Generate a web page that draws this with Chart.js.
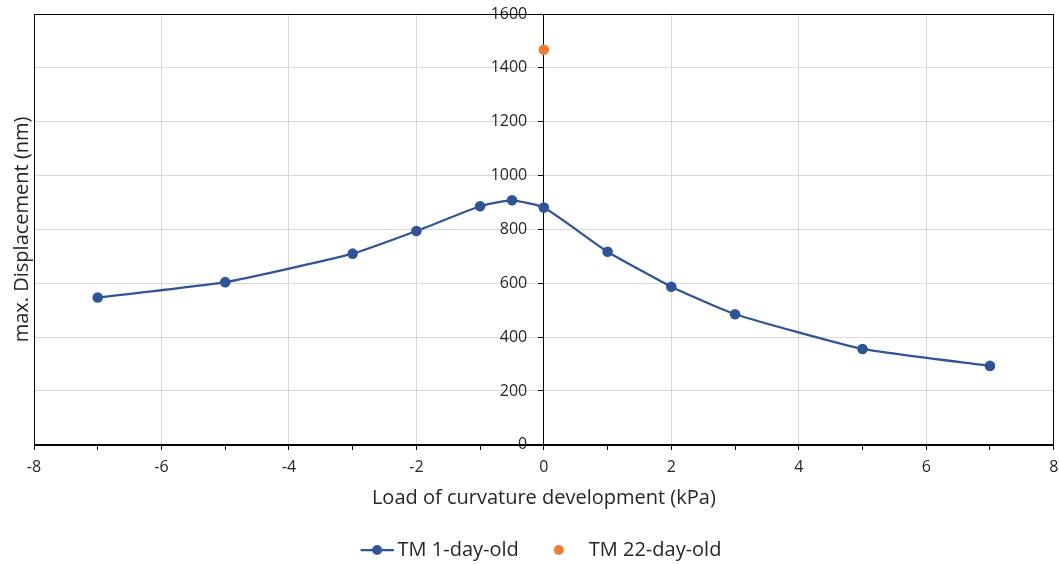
<!DOCTYPE html>
<html>
<head>
<meta charset="utf-8">
<script src="https://cdn.jsdelivr.net/npm/chart.js@4/dist/chart.umd.min.js"></script>
<style>
  html, body { margin: 0; padding: 0; background: #fff; }
  #wrap { width: 1059px; height: 565px; position: relative; }
</style>
</head>
<body>
<div id="wrap"><canvas id="c" width="1059" height="565"></canvas></div>
<script>
// Load of curvature development (kPa)
const loads1 = [-7, -5, -3, -2, -1, -0.5, 0, 1, 2, 3, 5, 7];
// max. displacement (nm), TM 1-day-old
const disp1 = [547, 604, 710, 794, 886, 908, 881, 717, 587, 485, 356, 293];
// TM 22-day-old
const loads22 = [0];
const disp22 = [1467];

const seriesNames = ['TM 1-day-old', 'TM 22-day-old'];
const xTitle = 'Load of curvature development (kPa)';
const yTitle = 'max. Displacement (nm)';

const BLUE = '#2F5597';
const ORANGE = '#ED7D31';
const TEXT = '#262626';
const GRID = '#d9d9d9';
const FONT = "'Open Sans', 'Liberation Sans', sans-serif";
const SYMBOL_W = 50;   // legend symbol slot width

// legend symbols: a short line with a marker, or a lone marker
function legendSymbol(withLine, color) {
  const cv = document.createElement('canvas');
  cv.width = SYMBOL_W + 12; cv.height = 12;
  const g = cv.getContext('2d');
  g.fillStyle = color;
  if (withLine) {
    const x0 = cv.width - 33, x1 = cv.width;
    g.strokeStyle = color; g.lineWidth = 2.25;
    g.beginPath(); g.moveTo(x0, 6); g.lineTo(x1, 6); g.stroke();
    g.beginPath(); g.arc((x0 + x1) / 2, 6, 5, 0, Math.PI * 2); g.fill();
  } else {
    g.beginPath(); g.arc(SYMBOL_W - 14, 6, 5, 0, Math.PI * 2); g.fill();
  }
  return cv;
}

const toPts = (xs, ys) => xs.map((x, i) => ({ x: x, y: ys[i] }));

// black frame round the plot area
const frame = {
  id: 'frame',
  beforeDatasetsDraw(chart) {
    const { ctx, chartArea: a } = chart;
    ctx.save();
    ctx.strokeStyle = '#000';
    ctx.lineWidth = 1;
    ctx.strokeRect(Math.round(a.left) + 0.5, Math.round(a.top) + 0.5,
      Math.round(a.right - a.left) - 1, Math.round(a.bottom - a.top));
    ctx.restore();
  }
};

new Chart(document.getElementById('c'), {
  type: 'scatter',
  data: {
    datasets: [
      {
        label: seriesNames[0],
        data: toPts(loads1, disp1),
        showLine: true,
        borderColor: BLUE,
        backgroundColor: BLUE,
        borderWidth: 2.25,
        pointRadius: 5.3,
        pointHoverRadius: 5.3,
        pointBorderWidth: 0,
        tension: 0.15,
        pointStyle: 'circle'
      },
      {
        label: seriesNames[1],
        data: toPts(loads22, disp22),
        showLine: false,
        borderColor: ORANGE,
        backgroundColor: ORANGE,
        pointRadius: 5.3,
        pointHoverRadius: 5.3,
        pointBorderWidth: 0,
        pointStyle: 'circle'
      }
    ]
  },
  options: {
    responsive: false,
    animation: false,
    layout: { padding: { left: 0, right: 0, top: 14, bottom: -5 } },
    plugins: {
      tooltip: { enabled: false },
      legend: {
        position: 'bottom',
        labels: {
          color: TEXT,
          font: { family: FONT, size: 20 },
          usePointStyle: true,
          pointStyleWidth: SYMBOL_W,
          padding: 10,
          generateLabels(chart) {
            return chart.data.datasets.map((ds, i) => ({
              text: ds.label,
              pointStyle: legendSymbol(i === 0, ds.borderColor),
              fillStyle: ds.backgroundColor,
              strokeStyle: ds.borderColor,
              lineWidth: 0,
              fontColor: TEXT,
              hidden: false,
              datasetIndex: i
            }));
          }
        }
      }
    },
    scales: {
      x: {
        type: 'linear',
        position: 'bottom',
        min: -8, max: 8,
        ticks: {
          stepSize: 1,
          color: TEXT,
          padding: 0,
          font: { family: FONT, size: 16 },
          maxRotation: 0,
          autoSkip: false,
          callback: v => (v % 2 === 0 ? String(v) : '')
        },
        grid: {
          color: c => (c.tick && c.tick.value % 2 === 0 && c.tick.value !== 0 ? GRID : 'rgba(0,0,0,0)'),
          tickColor: '#000',
          // short visible tick mark, extra room below it for the labels
          tickLength: 13,
          tickBorderDash: [5, 60],
          lineWidth: 1
        },
        border: { display: true, color: '#000', width: 1 },
        title: {
          display: true,
          text: xTitle,
          color: TEXT,
          font: { family: FONT, size: 20 },
          padding: { top: 9, bottom: 20 }
        }
      },
      y: {
        type: 'linear',
        position: { x: 0 },
        min: 0, max: 1600,
        ticks: {
          stepSize: 200,
          color: TEXT,
          font: { family: FONT, size: 16 },
          // trailing gap keeps the labels clear of the centre axis
          callback: v => String(v) + '    '
        },
        grid: {
          color: c => (c.tick && c.tick.value !== 0 ? GRID : 'rgba(0,0,0,0)'),
          tickColor: '#000',
          tickLength: 5,
          lineWidth: 1
        },
        border: { display: true, color: '#000', width: 1 }
      },
      yTitleAxis: {
        type: 'linear',
        position: 'left',
        min: 0, max: 1600,
        ticks: { display: false },
        grid: { display: false, drawTicks: false },
        border: { display: false },
        title: {
          display: true,
          text: yTitle,
          color: TEXT,
          font: { family: FONT, size: 20 },
          padding: { top: 10, bottom: 0 }
        }
      }
    }
  },
  plugins: [frame]
});
</script>
</body>
</html>
